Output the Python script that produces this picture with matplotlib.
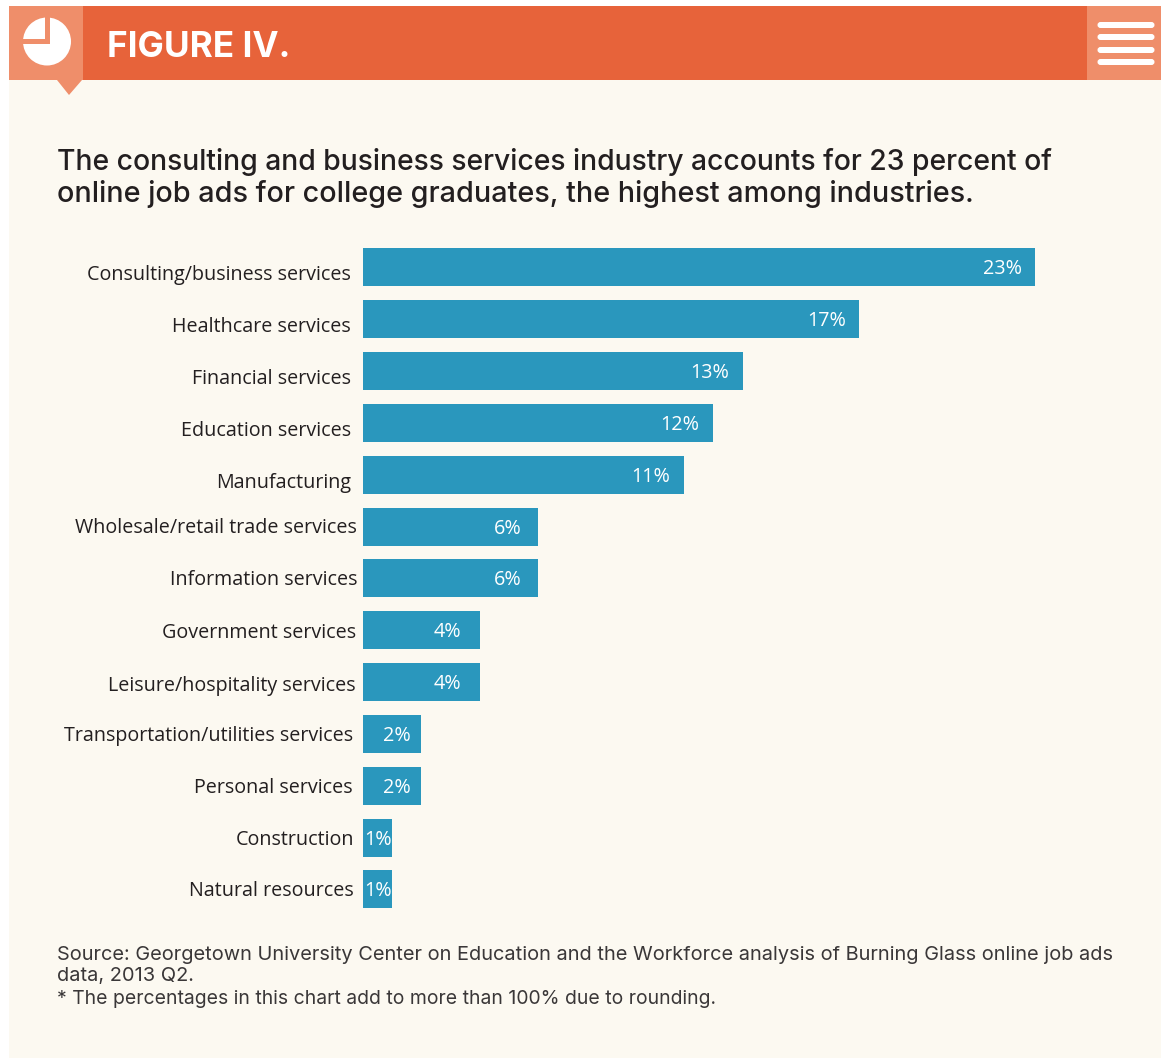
#!/usr/bin/env python
#coding: utf-8

import matplotlib.pyplot as plt
from matplotlib.patches import Rectangle, Polygon, Circle, FancyBboxPatch

W, H = 1161, 1060

industries = ['Consulting/business services', 'Healthcare services', 'Financial services',
              'Education services', 'Manufacturing', 'Wholesale/retail trade services',
              'Information services', 'Government services', 'Leisure/hospitality services',
              'Transportation/utilities services', 'Personal services', 'Construction',
              'Natural resources']
shares = [23, 17, 13, 12, 11, 6, 6, 4, 4, 2, 2, 1, 1]

title_lines = ['The consulting and business services industry accounts for 23 percent of',
               'online job ads for college graduates, the highest among industries.']
source_lines = ['Source: Georgetown University Center on Education and the Workforce analysis of Burning Glass online job ads',
                'data, 2013 Q2.',
                '* The percentages in this chart add to more than 100% due to rounding.']

# labels wander a bit in the original, offsets in px
label_gap = [12, 12, 12, 12, 12, 6, 5, 7, 7, 10, 10, 9, 9]
label_drop = [8, 8, 8, 8, 8, 1, 2, 3, 4, 2, 2, 2, 2]
value_gap = [13, 13, 13, 14, 14, 17, 17, 19, 19, 11, 11, 0, 0]

ORANGE = '#E7633A'
LIGHT = '#EF8E6A'
CREAM = '#FCF9F1'
BLUE = '#2A97BD'
DARK = '#231F20'

fig = plt.figure(figsize=(W/100, H/100), dpi=100, facecolor='white')

# page layer in pixel coords
bg = fig.add_axes([0, 0, 1, 1])
bg.set_xlim(0, W)
bg.set_ylim(H, 0)
bg.axis('off')
bg.add_patch(Rectangle((9, 6), W-9, 1052, fc=CREAM, ec='none'))
bg.add_patch(Rectangle((9, 6), W-9, 74, fc=ORANGE, ec='none'))
bg.add_patch(Rectangle((9, 6), 74, 74, fc=LIGHT, ec='none'))
bg.add_patch(Rectangle((1087, 6), 74, 74, fc=LIGHT, ec='none'))
bg.add_patch(Polygon([(57, 80), (82, 80), (69, 95)], fc=LIGHT, ec='none'))

# pie icon
bg.add_patch(Circle((47, 41.5), 24, fc='white', ec='none'))
bg.add_patch(Rectangle((22, 39), 28, 4.5, fc=LIGHT, ec='none'))
bg.add_patch(Rectangle((44.5, 16), 5.5, 27.5, fc=LIGHT, ec='none'))

# burger icon
for y in [25, 37, 50, 62]:
    bg.add_patch(FancyBboxPatch((1099, y-1.5), 54, 3, boxstyle='round,pad=1.5,rounding_size=3',
                                fc='white', ec='none'))

bg.text(107, 47.5, 'FIGURE IV.', color='white', fontsize=25.3, fontweight='bold',
        family='Inter', va='center', ha='left')

for y, size, line in zip([162, 194], [20.4, 20.7], title_lines):
    bg.text(57, y, line, color=DARK, fontsize=size, family='Inter', fontweight='medium',
            va='center', ha='left')

for y, size, line in zip([954.5, 976.5, 999], [14.4, 14.4, 13.95], source_lines):
    bg.text(57, y, line, color='#3A3738', fontsize=size, family='Inter', va='center', ha='left')

# chart, x axis scaled so 1% = 29.2 px, rows 51.83 px apart
x0, x1 = 363, 1063
ax = fig.add_axes([x0/W, 1-910/H, (x1-x0)/W, (910-246)/H])
ax.patch.set_alpha(0)
ax.set_xlim(0, (x1-x0)/29.2)
ax.set_ylim((910-267.4)/51.83, (246-267.4)/51.83)
ax.axis('off')

pos = list(range(len(industries)))
ax.barh(pos, shares, height=38/51.83, color=BLUE, linewidth=0)

for i, name in enumerate(industries):
    ax.annotate(name, xy=(0, i), xytext=(-label_gap[i], -label_drop[i]), textcoords='offset pixels',
                color=DARK, fontsize=14.25, family='Open Sans', va='center', ha='right',
                annotation_clip=False)
    ax.annotate(f'{shares[i]}%', xy=(shares[i], i), xytext=(-value_gap[i], -2), textcoords='offset pixels',
                color='white', fontsize=14.25, family='Open Sans', va='center', ha='right')

fig.savefig('out.png', dpi=100, facecolor='white')
